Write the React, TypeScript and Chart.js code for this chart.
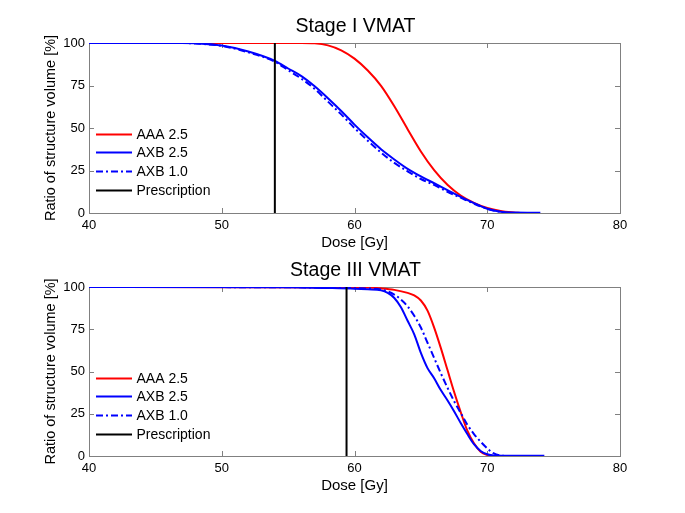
import React, { useEffect, useRef } from "react";
import { Chart, registerables } from "chart.js";

Chart.register(...registerables);

// ---------- text ----------
const panelTitles = ["Stage I VMAT", "Stage III VMAT"];
const seriesNames = ["AAA 2.5", "AXB 2.5", "AXB 1.0", "Prescription"];
const xAxisTitle = "Dose [Gy]";
const yAxisTitle = "Ratio of structure volume [%]";

// ---------- ticks ----------
const doseTicks = [40, 50, 60, 70, 80];
const volumeTicks = [0, 25, 50, 75, 100];

// ---------- Stage I data ----------
const s1AaaDose = [40, 56, 57, 58, 59, 60, 61, 62, 63, 64, 65, 66, 67, 68, 69, 70, 71, 72, 72.5];
const s1AaaVol = [100, 100, 99.8, 98.6, 95.7, 90.8, 83.8, 74.8, 62.8, 49.3, 36.2, 25.2, 16.6, 10.3, 6, 3, 1.2, 0.3, 0];

const s1Axb25Dose = [40, 47, 48, 50, 52, 54, 55, 56, 57, 58, 59, 60, 61, 62, 63, 64, 65, 66, 67, 68, 69, 70, 71, 72, 74];
const s1Axb25Vol = [100, 100, 99.8, 98.5, 95, 89.5, 85, 80.5, 74.5, 67.5, 60, 52, 44.5, 37.5, 31.5, 26, 21.5, 17.5, 13.5, 9.5, 5.8, 2.5, 0.7, 0.3, 0.2];

const s1Axb10Dose = [40, 47, 48, 50, 52, 54, 55, 56, 57, 58, 59, 60, 61, 62, 63, 64, 65, 66, 67, 68, 69, 70, 71, 71.5];
const s1Axb10Vol = [100, 100, 99.7, 98.3, 94.5, 89, 84, 79, 73, 65.5, 58, 50, 42.5, 35.5, 29.5, 24.5, 20, 16.5, 12.5, 9, 5.5, 2.5, 0.6, 0];

const s1Prescription = 54;

// ---------- Stage III data ----------
const s3AaaDose = [40, 61, 62, 63, 64, 64.5, 65, 65.5, 66, 66.5, 67, 67.5, 68, 68.5, 69, 69.5, 70, 70.5];
const s3AaaVol = [100, 99.7, 99.2, 98.3, 96.5, 95, 92, 86, 76, 64, 51, 38, 26, 15, 7.5, 2.5, 0.6, 0];

const s3Axb25Dose = [40, 55, 58, 60, 61, 62, 62.5, 63, 63.5, 64, 64.5, 65, 65.5, 66, 66.5, 67, 67.5, 68, 68.5, 69, 69.5, 70, 70.5, 72, 74.3];
const s3Axb25Vol = [100, 99.8, 99.4, 99, 98.6, 98, 96.5, 93.5, 88, 80, 72, 61, 52, 46, 39, 33, 26.5, 19.5, 13, 7, 3, 1, 0.3, 0.2, 0.2];

const s3Axb10Dose = [40, 58, 60, 62, 63, 63.5, 64, 64.5, 65, 65.5, 66, 66.5, 67, 67.5, 68, 68.5, 69, 69.5, 70, 70.5, 71, 71.3];
const s3Axb10Vol = [100, 99.7, 99.3, 98.5, 95.5, 92.5, 88.5, 83, 76, 67, 58, 49, 40.5, 32.5, 25.5, 18.5, 13, 8.5, 4.5, 1.5, 0.3, 0];

const s3Prescription = 59.4;

// ---------- styling ----------
const FONT = "'Liberation Sans', Arial, Helvetica, sans-serif";
const RED = "#ff0000";
const BLUE = "#0000ff";
const FRAME = "#808080";

const toPoints = (xs: number[], ys: number[]) => xs.map((x, i) => ({ x, y: ys[i] }));

const framePlugin = {
  id: "frameBox",
  beforeDatasetsDraw(chart: any) {
    const { ctx, chartArea, scales } = chart;
    const { left, right, top, bottom } = chartArea;
    ctx.save();
    ctx.strokeStyle = FRAME;
    ctx.lineWidth = 1;
    ctx.strokeRect(Math.round(left) + 0.5, Math.round(top) + 0.5, Math.round(right - left), Math.round(bottom - top));
    const tl = 5;
    ctx.beginPath();
    doseTicks.forEach((v) => {
      const x = Math.round(scales.x.getPixelForValue(v)) + 0.5;
      ctx.moveTo(x, bottom);
      ctx.lineTo(x, bottom - tl);
      ctx.moveTo(x, top);
      ctx.lineTo(x, top + tl);
    });
    volumeTicks.forEach((v) => {
      const y = Math.round(scales.y.getPixelForValue(v)) + 0.5;
      ctx.moveTo(left, y);
      ctx.lineTo(left + tl, y);
      ctx.moveTo(right, y);
      ctx.lineTo(right - tl, y);
    });
    ctx.stroke();
    ctx.restore();
  },
};

const titleLegendPlugin = {
  id: "titleLegend",
  afterDraw(chart: any) {
    const { ctx, chartArea } = chart;
    const opts = chart.options.plugins.titleLegend;
    ctx.save();
    // title
    ctx.fillStyle = "#000";
    ctx.font = `19.5px ${FONT}`;
    ctx.textAlign = "center";
    ctx.textBaseline = "alphabetic";
    ctx.fillText(opts.title, (chartArea.left + chartArea.right) / 2 + 1, chartArea.top - 11);
    // legend
    ctx.font = `14px ${FONT}`;
    ctx.textAlign = "left";
    ctx.textBaseline = "middle";
    chart.data.datasets.forEach((ds: any, i: number) => {
      const y = Math.round(chartArea.top + 90.5 + i * 18.7) + 0.5;
      const x0 = chartArea.left + 7;
      ctx.save();
      ctx.strokeStyle = ds.borderColor;
      ctx.lineWidth = 2;
      ctx.setLineDash(ds.borderDash || []);
      ctx.beginPath();
      ctx.moveTo(x0, y);
      ctx.lineTo(x0 + 36, y);
      ctx.stroke();
      ctx.restore();
      ctx.fillStyle = "#000";
      ctx.fillText(ds.label, x0 + 40.5, y + 1);
    });
    ctx.restore();
  },
};

function buildConfig(title: string, aaa: any[], axb25: any[], axb10: any[], presc: number, padTop: number, padBottom: number) {
  const line = (label: string, data: any[], color: string, order: number, dash?: number[]) => ({
    label,
    data,
    borderColor: color,
    backgroundColor: color,
    borderWidth: 2,
    pointRadius: 0,
    pointHoverRadius: 0,
    fill: false,
    cubicInterpolationMode: "monotone",
    borderDash: dash,
    order,
  });
  return {
    type: "line",
    data: {
      datasets: [
        line(seriesNames[0], aaa, RED, 4),
        line(seriesNames[1], axb25, BLUE, 3),
        line(seriesNames[2], axb10, BLUE, 2, [7, 3, 2, 3]),
        line(seriesNames[3], [{ x: presc, y: 0 }, { x: presc, y: 100 }], "#000", 1),
      ],
    },
    options: {
      animation: false,
      responsive: false,
      devicePixelRatio: 1,
      events: [],
      layout: { padding: { top: padTop, right: 65, bottom: padBottom, left: 0 } },
      plugins: {
        legend: { display: false },
        title: { display: false },
        tooltip: { enabled: false },
        titleLegend: { title },
      },
      scales: {
        x: {
          type: "linear",
          min: 40,
          max: 80,
          afterBuildTicks: (s: any) => {
            s.ticks = doseTicks.map((v) => ({ value: v }));
          },
          afterFit: (s: any) => {
            s.height = 43;
          },
          grid: { display: false, drawTicks: false },
          border: { display: false },
          ticks: { padding: 5, color: "#000", font: { size: 13, family: FONT }, maxRotation: 0 },
          title: {
            display: true,
            text: xAxisTitle,
            color: "#000",
            font: { size: 15, family: FONT },
            padding: { top: 0, bottom: 4 },
          },
        },
        y: {
          type: "linear",
          min: 0,
          max: 100,
          afterBuildTicks: (s: any) => {
            s.ticks = volumeTicks.map((v) => ({ value: v }));
          },
          afterFit: (s: any) => {
            s.width = 89;
          },
          grid: { display: false, drawTicks: false },
          border: { display: false },
          ticks: { padding: 4, color: "#000", font: { size: 13, family: FONT } },
          title: {
            display: true,
            text: yAxisTitle,
            color: "#000",
            font: { size: 14.5, family: FONT },
            padding: { top: 42, bottom: 0 },
          },
        },
      },
    },
    plugins: [framePlugin, titleLegendPlugin],
  } as any;
}

function Panel(props: { top: number; height: number; cfg: any }) {
  const ref = useRef<HTMLCanvasElement | null>(null);
  useEffect(() => {
    if (!ref.current) return;
    const chart = new Chart(ref.current, props.cfg);
    return () => chart.destroy();
  }, []);
  return (
    <div style={{ position: "absolute", left: 0, top: props.top, width: 685, height: props.height }}>
      <canvas ref={ref} width={685} height={props.height} style={{ display: "block", width: 685, height: props.height }} />
    </div>
  );
}

export default function App() {
  const cfgTop = buildConfig(
    panelTitles[0],
    toPoints(s1AaaDose, s1AaaVol),
    toPoints(s1Axb25Dose, s1Axb25Vol),
    toPoints(s1Axb10Dose, s1Axb10Vol),
    s1Prescription,
    43,
    0
  );
  const cfgBottom = buildConfig(
    panelTitles[1],
    toPoints(s3AaaDose, s3AaaVol),
    toPoints(s3Axb25Dose, s3Axb25Vol),
    toPoints(s3Axb10Dose, s3Axb10Vol),
    s3Prescription,
    31,
    14
  );
  return (
    <div style={{ position: "absolute", left: 0, top: 0, width: 685, height: 513, background: "#fff" }}>
      <Panel top={0} height={256} cfg={cfgTop} />
      <Panel top={256} height={257} cfg={cfgBottom} />
    </div>
  );
}
